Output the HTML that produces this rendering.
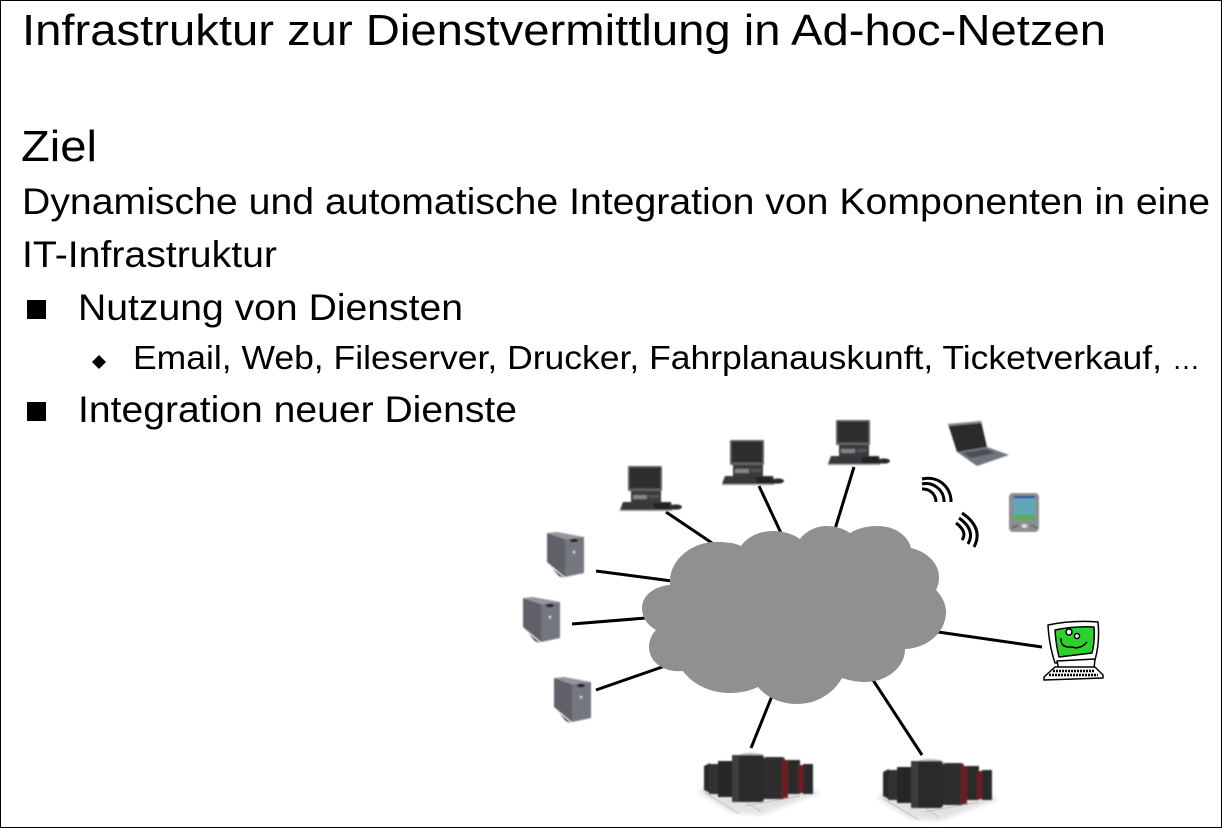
<!DOCTYPE html>
<html lang="de"><head><meta charset="utf-8"><title>Infrastruktur zur Dienstvermittlung in Ad-hoc-Netzen</title>
<style>html,body{margin:0;padding:0;background:#fff}svg{display:block}text{font-family:"Liberation Sans",Arial,sans-serif;fill:#000}</style></head>
<body>
<svg width="1224" height="828" viewBox="0 0 1224 828" xmlns="http://www.w3.org/2000/svg">
<defs>
<filter id="b" x="-10%" y="-10%" width="120%" height="120%"><feGaussianBlur stdDeviation="0.7"/></filter>
<filter id="b1" x="-10%" y="-10%" width="120%" height="120%"><feGaussianBlur stdDeviation="0.35"/></filter>
<filter id="b2" x="-20%" y="-20%" width="140%" height="140%"><feGaussianBlur stdDeviation="2.500"/></filter>
<g id="pc" filter="url(#b)">
  <rect x="3" y="25" width="30" height="11" fill="#3a3a3c"/>
  <rect x="5" y="29" width="14" height="4" fill="#84848a"/>
  <rect x="21" y="29" width="10" height="3" fill="#555"/>
  <rect x="0" y="0" width="34" height="25" rx="1" fill="#626265"/>
  <rect x="1.500" y="1.500" width="31" height="21" fill="#2d2d2e"/>
  <path d="M-8 44 L-5 36 H43 L45 44Z" fill="#38383a"/>
  <path d="M25 37 H41 L43 43 H27Z" fill="#222"/>
  <rect x="-8" y="44" width="52" height="1.200" fill="#aaa"/>
  <ellipse cx="48" cy="41" rx="6" ry="2.600" fill="#2c2c2c"/>
</g>
<g id="srv" filter="url(#b)">
  <path d="M547 533 L565 539 V577 L547 562Z" fill="#5e6168"/>
  <path d="M565 539 L584 537 V573 L565 577Z" fill="#74777e"/>
  <path d="M547 533 L557 532 L584 537 L565 539Z" fill="#94949a"/>
  <ellipse cx="574" cy="540.500" rx="4" ry="1.800" fill="#222"/>
  <circle cx="574" cy="552" r="1.300" fill="#ddd"/>
  <path d="M547 562 L559 576 L564 578 L552 568Z" fill="#222"/>
</g>
<g id="clu">
  <path d="M697 791 L730 812 L760 815 L821 793 L790 782 H720Z" fill="#e2e2e2" filter="url(#b2)"/>
  <path d="M705 793 L740 814 M730 791 L760 811 M745 806 L800 796" stroke="#c4c4c4" stroke-width="1" fill="none"/>
  <g filter="url(#b)">
    <path d="M704 766 L710 763 V793 L704 790Z" fill="#2a2a2a"/>
    <rect x="709" y="764" width="10" height="30" fill="#333"/>
    <rect x="718" y="761" width="14" height="36" fill="#262626"/>
    <rect x="763" y="757" width="22" height="42" rx="3" fill="#2e2e2e"/>
    <rect x="782" y="760" width="6" height="38" fill="#6e1a22"/>
    <rect x="788" y="760" width="12" height="34" fill="#2a2a2a"/>
    <rect x="798" y="765" width="6" height="28" fill="#6e1a22"/>
    <rect x="803" y="764" width="10" height="30" fill="#2a2a2a"/>
    <path d="M733 757 Q748 750 764 755 L765 758 H733Z" fill="#b9bcbc"/>
    <rect x="732" y="755" width="32" height="47" rx="3" fill="#2a2a2a"/>
    <rect x="732" y="755" width="7" height="47" fill="#3c3c3c"/>
  </g>
</g>
</defs>
<rect width="1224" height="828" fill="#fff"/>
<path d="M0.500 0.500 H1221.500 V827.500 H0.500Z" fill="none" stroke="#000" stroke-width="1"/>

<text x="22" y="45" font-size="44" textLength="1084" lengthAdjust="spacingAndGlyphs">Infrastruktur zur Dienstvermittlung in Ad-hoc-Netzen</text>
<text x="21" y="161" font-size="44" textLength="76" lengthAdjust="spacingAndGlyphs">Ziel</text>
<text x="22" y="214" font-size="37" textLength="1188" lengthAdjust="spacingAndGlyphs">Dynamische und automatische Integration von Komponenten in eine</text>
<text x="22" y="267" font-size="37" textLength="255" lengthAdjust="spacingAndGlyphs">IT-Infrastruktur</text>
<rect x="27" y="300" width="19" height="19"/>
<text x="78" y="320" font-size="37" textLength="385" lengthAdjust="spacingAndGlyphs">Nutzung von Diensten</text>
<path d="M99 355 L106 362 L99 369 L92 362Z"/>
<text x="133" y="369" font-size="33" textLength="1029" lengthAdjust="spacingAndGlyphs">Email, Web, Fileserver, Drucker, Fahrplanauskunft, Ticketverkauf,</text>
<text x="1172" y="369" font-size="28">…</text>
<rect x="27" y="402" width="19" height="19"/>
<text x="78" y="422" font-size="37" textLength="439" lengthAdjust="spacingAndGlyphs">Integration neuer Dienste</text>

<g stroke="#000" stroke-width="3" fill="none">
  <path d="M666 512 L712 543"/>
  <path d="M759 486 L781 533"/>
  <path d="M854 467 L835 529"/>
  <path d="M596 571 L672 581"/>
  <path d="M572 624 L646 618"/>
  <path d="M596 690 L665 666"/>
  <path d="M938 632 L1042 647"/>
  <path d="M772 696 L751 748"/>
  <path d="M873 680 L922 755"/>
</g>

<path fill="#909090" d="M670 585 C668 558 695 541 717 542 C727 542 735 543 741 546 C748 536 760 531 773 531 C783 531 793 534 800 539 C806 531 816 526 827 526 C836 526 844 529 850 533 C858 528 868 526 878 526 C894 526 908 535 911 548 C928 552 939 564 939 577 C939 582 938 586 936 590 C942 596 946 604 946 612 C946 632 928 648 905 649 C905 668 886 682 865 682 C856 682 848 680 842 678 C833 694 816 704 797 704 C780 704 766 697 758 687 C750 691 740 693 730 693 C710 693 692 684 683 671 C664 673 649 662 649 647 C649 640 652 634 656 630 C647 625 642 617 642 608 C642 595 655 586 670 585Z"/>

<use href="#pc" x="628" y="466"/>
<use href="#pc" x="730" y="440"/>
<use href="#pc" x="836" y="420"/>

<use href="#srv"/>
<use href="#srv" x="-24" y="65"/>
<use href="#srv" x="7" y="145"/>

<use href="#clu"/>
<use href="#clu" x="179" y="6"/>

<!-- laptop -->
<g filter="url(#b)">
  <path d="M948 424 L981 421 L987 447 L957 452Z" fill="#2a2a2c"/>
  <path d="M948 424 L981 421 L982 423 L949 426Z" fill="#8a8a8a"/>
  <path d="M957 452 L987 447 L1009 455 L977 466Z" fill="#6f767c"/>
  <path d="M963 453 L986 449 L995 453 L971 458Z" fill="#4a4f55"/>
</g>

<!-- PDA -->
<g filter="url(#b)">
  <rect x="1009" y="493" width="30" height="39" rx="4" fill="#8b8e92"/>
  <rect x="1014" y="496" width="21" height="24" fill="#5fa8b8"/>
  <rect x="1014" y="496" width="21" height="2" fill="#1c3f9a"/>
  <rect x="1014" y="515" width="21" height="5" fill="#58b04a"/>
  <ellipse cx="1024.500" cy="526" rx="3" ry="2" fill="#ddd"/>
  <path d="M1012 528 L1018 525 M1031 525 L1037 528" stroke="#555" stroke-width="1.500"/>
</g>

<!-- wireless waves -->
<g fill="none" stroke="#000" stroke-width="3">
  <path d="M922 479 A23 23 0 0 1 951 502"/>
  <path d="M922 484 A18 18 0 0 1 944 502"/>
  <path d="M922 489 A13 13 0 0 1 936 502"/>
  <path d="M962 513 Q984 528 974 547"/>
  <path d="M959 518 Q976 530 968 544"/>
  <path d="M956 523 Q968 532 962 540"/>
</g>

<!-- green computer -->
<g stroke="#000" stroke-width="1.500" stroke-linejoin="round" filter="url(#b1)">
  <path d="M1048 625 Q1072 620 1098 622 Q1100 642 1095 660 L1055 663 Q1049 645 1048 625Z" fill="#fff"/>
  <path d="M1055 630 Q1075 626 1094 627 Q1095 642 1092 653 L1059 657 Q1056 645 1055 630Z" fill="#2ed02e"/>
  <path d="M1057 661 L1095 659 L1094 668 L1059 670Z" fill="#fff"/>
  <path d="M1044 677 L1055 667 L1095 667 L1103 675 L1103 678 L1044 680Z" fill="#fff"/>
  <path d="M1049 675 H1098 M1053 671 H1095" stroke-width="2.500" stroke-dasharray="2 1" fill="none"/>
  <circle cx="1069" cy="632" r="3" fill="#fff"/>
  <circle cx="1077" cy="636" r="2.500" fill="#fff"/>
  <path d="M1061 638 Q1060 648 1072 647 Q1080 650 1087 642" fill="none"/>
</g>
</svg>
</body></html>
